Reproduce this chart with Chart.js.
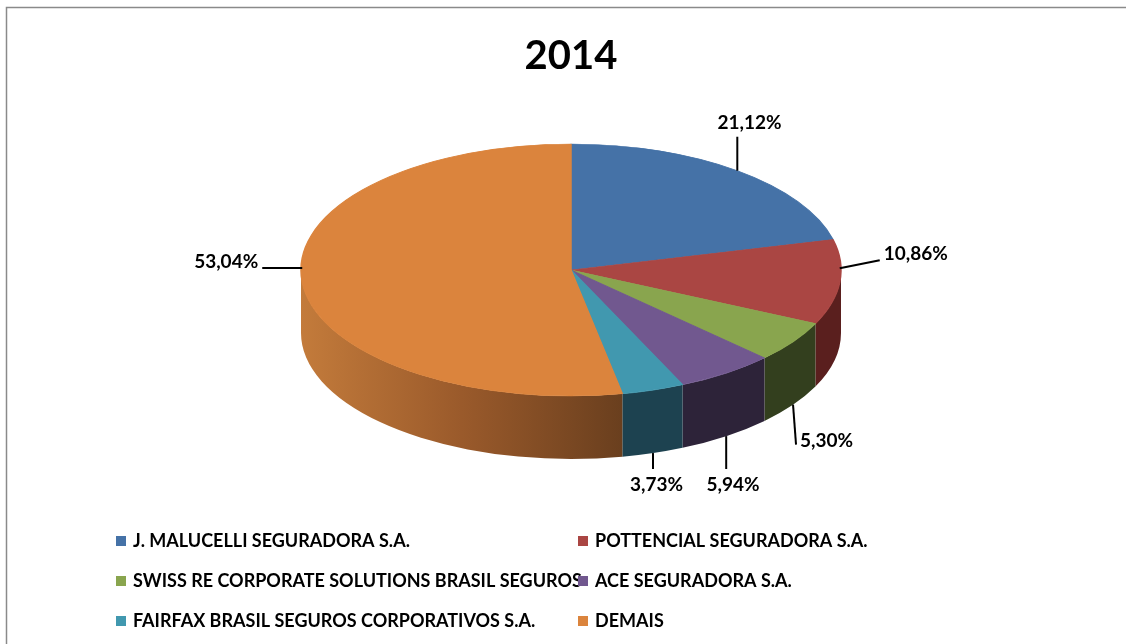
<!DOCTYPE html>
<html>
<head>
<meta charset="utf-8">
<script src="https://cdn.jsdelivr.net/npm/chart.js@4.4.1/dist/chart.umd.min.js"></script>
<style>
  html, body { margin: 0; padding: 0; background: #fff; }
  #wrap { position: relative; width: 1126px; height: 644px; }
</style>
</head>
<body>
<div id="wrap"><canvas id="myChart"></canvas></div>
<script>
const chartTitle = "2014";
const categories = [
  "J. MALUCELLI SEGURADORA S.A.",
  "POTTENCIAL SEGURADORA S.A.",
  "SWISS RE CORPORATE SOLUTIONS BRASIL SEGUROS",
  "ACE SEGURADORA S.A.",
  "FAIRFAX BRASIL SEGUROS CORPORATIVOS S.A.",
  "DEMAIS",
];
const shares = [21.12, 10.86, 5.3, 5.94, 3.73, 53.04];

const colors = ["#4572A7", "#AA4643", "#89A54E", "#71588F", "#4198AF", "#DB843D"];
const sideColors = ["#233a56", "#5a1f1e", "#333f1e", "#2d2339", "#1d4250", null];
const FONT = "Lato, 'Open Sans', sans-serif";

// 3d look
const RX = 270, RY = 126, DEPTH = 63;

const fmt = (v) => v.toFixed(2).replace(".", ",") + "%";

const pie3d = {
  id: "pie3d",
  beforeDatasetsDraw(chart) {
    const ctx = chart.ctx;
    const arcs = chart.getDatasetMeta(0).data;
    const cx = arcs[0].x, cy = arcs[0].y, R = arcs[0].outerRadius;
    // side walls (front half only)
    arcs.forEach((a, i) => {
      const s = Math.max(a.startAngle, 0);
      const e = Math.min(a.endAngle, Math.PI);
      if (e <= s) return;
      ctx.beginPath();
      ctx.ellipse(cx, cy, RX, RY, 0, s, e);
      ctx.ellipse(cx, cy + DEPTH, RX, RY, 0, e, s, true);
      ctx.closePath();
      if (sideColors[i]) {
        ctx.fillStyle = sideColors[i];
      } else {
        const x0 = cx + RX * Math.cos(e), x1 = cx + RX * Math.cos(s);
        const g = ctx.createLinearGradient(x0, 0, x1, 0);
        g.addColorStop(0, "#c37b3b");
        g.addColorStop(0.5, "#9a5a2b");
        g.addColorStop(1, "#6a3f1e");
        ctx.fillStyle = g;
      }
      ctx.fill();
    });
    // squash the top face into an ellipse
    ctx.save();
    ctx.translate(cx, cy);
    ctx.scale(RX / R, RY / R);
    ctx.translate(-cx, -cy);
  },
  afterDatasetsDraw(chart) {
    const ctx = chart.ctx;
    ctx.restore();
    const arcs = chart.getDatasetMeta(0).data;
    const cx = arcs[0].x, cy = arcs[0].y;
    const values = chart.data.datasets[0].data;

    ctx.save();
    ctx.strokeStyle = "#000";
    ctx.lineWidth = 2;
    ctx.fillStyle = "#000";
    ctx.font = "bold 19px " + FONT;
    arcs.forEach((a, i) => {
      const mid = (a.startAngle + a.endAngle) / 2;
      const c = Math.cos(mid), s = Math.sin(mid);
      const side = Math.abs(c) > 0.9;
      const front = s > 0 && !side;
      const ax = cx + RX * c, ay = cy + RY * s + (front ? DEPTH : 0) - (side ? 14 : 0);
      let ex, ey, tx, ty, align;
      if (side) {
        ex = ax + Math.sign(c) * 40; ey = ay - (c > 0 ? 8 : 0);
        tx = ex + Math.sign(c) * 4; ty = ey - 6;
        align = c > 0 ? "left" : "right";
      } else if (!front) {
        ex = ax; ey = ay - 34;
        tx = ex + 20 * c; ty = ey - 14;
        align = "center";
      } else if (c > 0.7) {
        ex = ax + 3; ey = ay + 40;
        tx = ex + 4; ty = ey - 4;
        align = "left";
      } else {
        ex = ax; ey = cy + RY + DEPTH + 10;
        tx = ex + 12 * c; ty = ey + 16;
        align = "center";
      }
      ctx.beginPath();
      ctx.moveTo(ax, ay);
      ctx.lineTo(ex, ey);
      ctx.stroke();
      ctx.textAlign = align;
      ctx.textBaseline = "middle";
      ctx.fillText(fmt(values[i]), tx, ty);
    });
    ctx.restore();
  },
  afterDraw(chart) {
    const ctx = chart.ctx;
    ctx.save();
    // outer frame (top + left only)
    ctx.strokeStyle = "#8a8a8a";
    ctx.lineWidth = 1.5;
    ctx.beginPath();
    ctx.moveTo(6.5, chart.height);
    ctx.lineTo(6.5, 7.5);
    ctx.lineTo(chart.width, 7.5);
    ctx.stroke();

    // legend, two columns
    const ds = chart.data.datasets[0];
    ctx.font = "bold 18px " + FONT;
    ctx.textBaseline = "middle";
    ctx.textAlign = "left";
    chart.data.labels.forEach((lab, i) => {
      const col = i % 2, row = Math.floor(i / 2);
      const x = 116 + col * 462, y = 536 + row * 40;
      ctx.fillStyle = ds.backgroundColor[i];
      ctx.fillRect(x, y, 10, 10);
      ctx.fillStyle = "#000";
      ctx.fillText(lab, x + 17, y + 5);
    });
    ctx.restore();
  },
};

Chart.defaults.font.family = FONT;

const ctx = document.getElementById("myChart").getContext("2d");
const myChart = new Chart(ctx, {
  type: "pie",
  data: {
    labels: categories,
    datasets: [
      {
        data: shares,
        backgroundColor: colors,
        borderColor: colors,
        borderWidth: 1,
      },
    ],
  },
  options: {
    responsive: true,
    maintainAspectRatio: false,
    animation: false,
    events: [],
    layout: { padding: { left: 16, right: 0, top: 0, bottom: 194 } },
    plugins: {
      legend: { display: false },
      tooltip: { enabled: false },
      title: {
        display: true,
        text: chartTitle,
        color: "#000",
        font: { family: FONT, size: 40, weight: "bold" },
        padding: { top: 32, bottom: 10 },
      },
    },
  },
  plugins: [pie3d],
});
</script>
</body>
</html>
